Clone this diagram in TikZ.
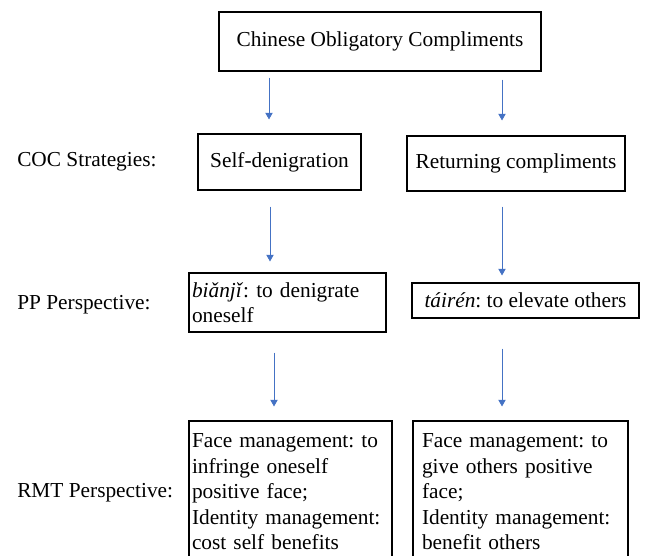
\documentclass[tikz,border=0pt]{standalone}
\usepackage{fontspec}
\setmainfont{LiberationSerif}[Extension=.ttf, UprightFont=*-Regular, ItalicFont=*-Italic, BoldFont=*-Bold]
\usetikzlibrary{arrows.meta}

\definecolor{arrowblue}{RGB}{68,114,196}

\begin{document}
\frenchspacing
\begin{tikzpicture}[x=0.75pt, y=-0.75pt,
        every node/.style={font=\fontsize{16}{19.1}\selectfont},
        box/.style={draw, line width=0.8pt, align=center},
        textbox/.style={draw, line width=0.8pt, align=left},
        link/.style={arrowblue, line width=0.6pt, -{Triangle[width=5.5pt,length=5pt]}}]
        % Frame
        \useasboundingbox (0,0) rectangle (646,556);
        \clip (0,0) rectangle (646,556);

        % Row labels
        \node[anchor=west, inner sep=0] (lcoc) at (17,162) {COC Strategies:};
        \node[anchor=west, inner sep=0] (lpp) at (17,305) {PP Perspective:};
        \node[anchor=west, inner sep=0] (lrmt) at (17,493) {RMT Perspective:};

        % Top box
        \node[box, minimum width=241.5pt, minimum height=44.25pt] (top) at (380,41.5) {Chinese Obligatory Compliments};

        % Strategies
        \node[box, minimum width=122.25pt, minimum height=42pt] (self) at (279.5,162) {Self-denigration};
        \node[box, minimum width=163.5pt, minimum height=41.25pt] (ret) at (516,163.5) {Returning compliments};

        % PP perspective
        \node[textbox, inner xsep=2.25pt, text width=143.25pt, minimum height=44.25pt] (bianji) at (287.5,302.5) {\textit{biǎnjǐ}: to denigrate\\oneself};
        \node[box, minimum width=170.25pt, minimum height=26.25pt] (tairen) at (525.5,300.5) {\textit{táirén}: to elevate others};

        % RMT perspective (boxes run past the bottom edge)
        \node[textbox, inner xsep=2.25pt, text width=147.75pt, minimum height=106.5pt] (rmtL) at (290.5,492) {Face management: to\\infringe oneself\\positive face;\\Identity management:\\cost self benefits};
        \node[textbox, inner xsep=6.75pt, text width=147.75pt, minimum height=106.5pt] (rmtR) at (520.5,492) {Face management: to\\give others positive\\face;\\Identity management:\\benefit others};

        % Arrows
        \draw[link] ([shift={(-111,6)}]top.south) -- ([shift={(-10.5,-14)}]self.north);
        \draw[link] ([shift={(122,8)}]top.south) -- ([shift={(-14,-15)}]ret.north);
        \draw[link] ([shift={(-9.5,16)}]self.south) -- ([shift={(-17.5,-11)}]bianji.north);
        \draw[link] ([shift={(-14,15)}]ret.south) -- ([shift={(-23.5,-7)}]tairen.north);
        \draw[link] ([shift={(-13.5,20)}]bianji.south) -- ([shift={(-16.5,-14)}]rmtL.north);
        \draw[link] ([shift={(-23.5,30)}]tairen.south) -- ([shift={(-18.5,-14)}]rmtR.north);
\end{tikzpicture}
\end{document}
